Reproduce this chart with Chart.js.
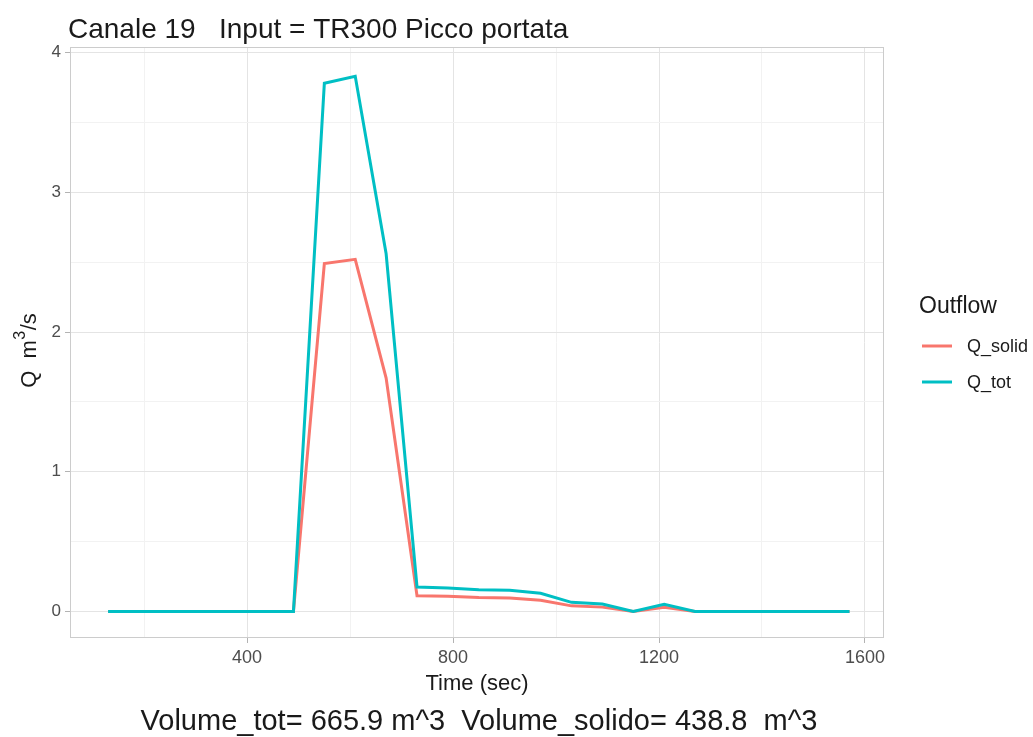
<!DOCTYPE html>
<html>
<head>
<meta charset="utf-8">
<script src="https://cdn.jsdelivr.net/npm/chart.js@4/dist/chart.umd.min.js"></script>
<style>
  html, body { margin: 0; padding: 0; background: #fff; }
  #chart { display: block; }
</style>
</head>
<body>
<canvas id="chart" width="1033" height="737"></canvas>
<script>
// === Data ===
const timeSec = [130, 190, 250, 310, 370, 430, 490, 550, 610, 670, 730, 790, 850,
                 910, 970, 1030, 1090, 1150, 1210, 1270, 1330, 1390, 1450, 1510, 1570];
const qSolid = [0, 0, 0, 0, 0, 0, 0, 2.49, 2.52, 1.67, 0.113, 0.108, 0.100,
                0.097, 0.080, 0.040, 0.031, 0, 0.030, 0, 0, 0, 0, 0, 0];
const qTot = [0, 0, 0, 0, 0, 0, 0, 3.78, 3.83, 2.56, 0.175, 0.168, 0.155,
              0.152, 0.130, 0.065, 0.053, 0, 0.052, 0, 0, 0, 0, 0, 0];
const seriesNames = ["Q_solid", "Q_tot"];
const xGridTicks = [200, 400, 600, 800, 1000, 1200, 1400, 1600];
const xMajorTicks = [400, 800, 1200, 1600];
const yGridTicks = [0, 0.5, 1, 1.5, 2, 2.5, 3, 3.5, 4];
const yMajorTicks = [0, 1, 2, 3, 4];

const RED = "#F8766D";
const TEAL = "#00BFC4";
const FONT = "'Liberation Sans', Arial, sans-serif";

const toPoints = ys => timeSec.map((t, i) => ({ x: t, y: ys[i] }));
const isMajor = (list, c) => c.tick && list.includes(c.tick.value);

// === Extra text: title, axis titles, legend, caption, panel border ===
const decorations = {
    id: "decorations",
    afterDraw(chart) {
        const { ctx, chartArea: a } = chart;
        ctx.save();

        // panel border
        ctx.strokeStyle = "#cccccc";
        ctx.lineWidth = 1;
        ctx.strokeRect(a.left + 0.5, a.top + 0.5, a.right - a.left - 1, a.bottom - a.top - 1);

        ctx.fillStyle = "#1a1a1a";
        ctx.textBaseline = "alphabetic";

        // title
        ctx.font = `28px ${FONT}`;
        ctx.textAlign = "left";
        ctx.fillText("Canale 19   Input = TR300 Picco portata", 68, 38);

        // x title
        ctx.font = `22px ${FONT}`;
        ctx.textAlign = "center";
        ctx.fillText("Time (sec)", (a.left + a.right) / 2, 690);

        // caption
        ctx.font = `29px ${FONT}`;
        ctx.fillText("Volume_tot= 665.9 m^3  Volume_solido= 438.8  m^3", 479, 730);

        // y title, rotated, with superscript
        ctx.save();
        ctx.translate(36, 351);
        ctx.rotate(-Math.PI / 2);
        ctx.textAlign = "left";
        const p1 = "Q  m", p3 = "/s";
        ctx.font = `22px ${FONT}`;
        const w1 = ctx.measureText(p1).width;
        const w3 = ctx.measureText(p3).width;
        ctx.font = `16px ${FONT}`;
        const w2 = ctx.measureText("3").width;
        const x0 = -(w1 + w2 + w3) / 2;
        ctx.font = `22px ${FONT}`;
        ctx.fillText(p1, x0, 0);
        ctx.fillText(p3, x0 + w1 + w2 + 1, 0);
        ctx.font = `16px ${FONT}`;
        ctx.fillText("3", x0 + w1 + 0.5, -11);
        ctx.restore();

        // legend
        ctx.textAlign = "left";
        ctx.font = `23px ${FONT}`;
        ctx.fillText("Outflow", 919, 313);
        const keyColors = [RED, TEAL];
        const keyY = [346, 382];
        ctx.font = `18px ${FONT}`;
        seriesNames.forEach((name, i) => {
            ctx.strokeStyle = keyColors[i];
            ctx.lineWidth = 3;
            ctx.beginPath();
            ctx.moveTo(922, keyY[i]);
            ctx.lineTo(952, keyY[i]);
            ctx.stroke();
            ctx.fillStyle = "#1a1a1a";
            ctx.fillText(name, 967, keyY[i] + 6);
        });

        ctx.restore();
    },
};

// === Chart ===
new Chart(document.getElementById("chart"), {
    type: "line",
    data: {
        datasets: [
            {
                label: seriesNames[0],
                data: toPoints(qSolid),
                borderColor: RED,
                borderWidth: 3,
                pointRadius: 0,
                tension: 0,
                order: 1,
            },
            {
                label: seriesNames[1],
                data: toPoints(qTot),
                borderColor: TEAL,
                borderWidth: 3,
                pointRadius: 0,
                tension: 0,
                order: 0,
            },
        ],
    },
    options: {
        responsive: false,
        animation: false,
        layout: { padding: { top: 47, right: 149, left: 0, bottom: 0 } },
        plugins: {
            legend: { display: false },
            title: { display: false },
            tooltip: { enabled: false },
        },
        scales: {
            x: {
                type: "linear",
                min: 56,
                max: 1637,
                afterBuildTicks: s => { s.ticks = xGridTicks.map(v => ({ value: v })); },
                ticks: {
                    autoSkip: false,
                    maxRotation: 0,
                    padding: 4,
                    color: "#4d4d4d",
                    font: { family: FONT, size: 18 },
                    callback: v => (xMajorTicks.includes(v) ? v : ""),
                },
                grid: {
                    color: c => (isMajor(xMajorTicks, c) ? "#e4e4e4" : "#f2f2f2"),
                    tickColor: c => (isMajor(xMajorTicks, c) ? "#b3b3b3" : "rgba(0,0,0,0)"),
                    tickLength: 5,
                    lineWidth: 1,
                },
                border: { display: false },
                afterFit: s => { s.height = 99; },
            },
            y: {
                min: -0.19,
                max: 4.04,
                afterBuildTicks: s => { s.ticks = yGridTicks.map(v => ({ value: v })); },
                ticks: {
                    autoSkip: false,
                    padding: 4,
                    color: "#4d4d4d",
                    font: { family: FONT, size: 17 },
                    callback: v => (yMajorTicks.includes(v) ? v : ""),
                },
                grid: {
                    color: c => (isMajor(yMajorTicks, c) ? "#e4e4e4" : "#f2f2f2"),
                    tickColor: c => (isMajor(yMajorTicks, c) ? "#b3b3b3" : "rgba(0,0,0,0)"),
                    tickLength: 5,
                    lineWidth: 1,
                },
                border: { display: false },
                afterFit: s => { s.width = 70; },
            },
        },
    },
    plugins: [decorations],
});
</script>
</body>
</html>
